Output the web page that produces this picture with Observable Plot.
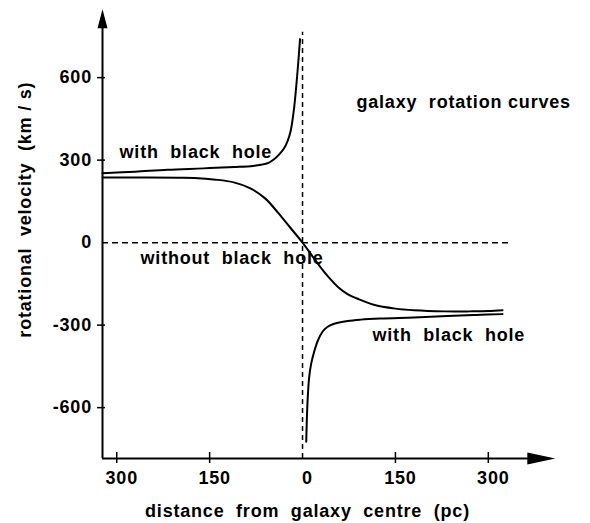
<!DOCTYPE html>
<html>
<head>
<meta charset="utf-8">
<script src="https://cdn.jsdelivr.net/npm/d3@7"></script>
<script src="https://cdn.jsdelivr.net/npm/@observablehq/plot@0.6"></script>
<style>
  html, body { margin: 0; padding: 0; background: #fff; }
</style>
</head>
<body>
<div id="chart"></div>
<script>
// distance from centre (pc, signed: left negative) and rotational velocity (km/s)
const withHoleLeftX = [-323, -270, -218, -160, -110, -80, -67, -55, -46, -38, -30, -24, -19, -13.5, -8, -4];
const withHoleLeftV = [252, 258, 265, 270, 275, 279, 283, 290, 303, 320, 342, 370, 408, 492, 625, 740];

const withoutHoleX = [-323, -250, -200, -175, -140, -111, -85, -60, -40, -20, 0, 20, 40, 60, 72, 89, 115, 150, 180, 230, 270, 300, 323];
const withoutHoleV = [237, 237, 236, 235, 229, 219, 198, 160, 110, 55, 0, -62, -120, -167, -186, -204, -226, -240, -246, -250, -250, -249, -246];

const withHoleRightX = [6, 7, 8.5, 10.7, 14, 19, 25, 32, 40, 50, 73, 94, 126, 180, 234, 280, 323];
const withHoleRightV = [-724, -640, -560, -490, -440, -395, -355, -325, -307, -296, -285, -280, -276, -272, -267, -263, -260];

const xTickValues = [-300, -150, 0, 150, 300];
const yTickValues = [-600, -300, 0, 300, 600];

const S = "\u00A0\u00A0";
const labelTexts = ["with" + S + "black" + S + "hole", "without" + S + "black" + S + "hole", "with" + S + "black" + S + "hole", "galaxy" + S + "rotation curves"];
const labelX = [-295.5, -261.6, 113, 87];
const labelV = [330, -55, -335, 512];

const xTitle = "distance" + S + "from" + S + "galaxy" + S + "centre" + S + "(pc)";
const yTitle = "rotational" + S + "velocity" + S + "(km / s)";

const zip = (xs, vs) => xs.map((x, i) => ({x, v: vs[i]}));
const withLeft = zip(withHoleLeftX, withHoleLeftV);
const without = zip(withoutHoleX, withoutHoleV);
const withRight = zip(withHoleRightX, withHoleRightV);
const labels = labelTexts.map((t, i) => ({t, x: labelX[i], v: labelV[i]}));

const X0 = -323, X1 = 465, Y0 = -785, Y1 = 855;

const chart = Plot.plot({
  width: 590,
  height: 523,
  marginLeft: 102,
  marginRight: 0,
  marginTop: 7,
  marginBottom: 65,
  x: {domain: [X0, X1], axis: null},
  y: {domain: [Y0, Y1], axis: null},
  style: {
    fontFamily: "'Liberation Sans', Arial, Helvetica, sans-serif",
    fontSize: "18px",
    fontWeight: "bold",
    letterSpacing: "0.8px",
    background: "white",
    color: "black",
    overflow: "visible"
  },
  marks: [
    // dashed reference lines
    Plot.ruleY([0], {x1: X0, x2: 336, stroke: "black", strokeWidth: 1.5, strokeDasharray: "6,4"}),
    Plot.ruleX([0], {y1: Y0, y2: 765, stroke: "black", strokeWidth: 1.5, strokeDasharray: "5,4"}),
    // axes
    Plot.ruleX([X0], {y1: Y0, y2: 782, stroke: "black", strokeWidth: 2}),
    Plot.ruleY([Y0], {x1: X0, x2: 365, stroke: "black", strokeWidth: 2}),
    Plot.vector([{x: X0, v: 780}], {x: "x", y: "v", length: 19, r: 5, shape: "spike", anchor: "start", rotate: 0, fill: "black", stroke: "none"}),
    Plot.vector([{x: 363, v: Y0}], {x: "x", y: "v", length: 28, r: 6, shape: "spike", anchor: "start", rotate: 90, fill: "black", stroke: "none"}),
    // ticks
    Plot.ruleX(xTickValues.filter(d => d !== 0), {x: d => d, y1: Y0, y2: Y0, insetTop: -6, insetBottom: -5, stroke: "black", strokeWidth: 1.5}),
    Plot.ruleY(yTickValues.filter(d => d !== 0), {y: d => d, x1: X0, x2: X0, insetLeft: -5, insetRight: -3, stroke: "black", strokeWidth: 1.5}),
    Plot.text(xTickValues, {x: d => d, y: Y0, text: d => String(Math.abs(d)), dy: 19.5, dx: 5, fill: "black"}),
    Plot.text(yTickValues, {x: X0, y: d => d, text: d => String(d), textAnchor: "end", dx: -10.5, fill: "black"}),
    // curves
    Plot.line(withLeft, {x: "x", y: "v", curve: "catmull-rom", stroke: "black", strokeWidth: 2}),
    Plot.line(without, {x: "x", y: "v", curve: "catmull-rom", stroke: "black", strokeWidth: 2}),
    Plot.line(withRight, {x: "x", y: "v", curve: "catmull-rom", stroke: "black", strokeWidth: 2}),
    // annotations
    Plot.text(labels, {x: "x", y: "v", text: "t", textAnchor: "start", fill: "black"}),
    Plot.text([xTitle], {x: 8, y: -978, text: d => d, fill: "black"}),
    Plot.text([yTitle], {x: -447, y: 120, text: d => d, rotate: -90, fill: "black"})
  ]
});
document.getElementById("chart").appendChild(chart);
</script>
</body>
</html>
